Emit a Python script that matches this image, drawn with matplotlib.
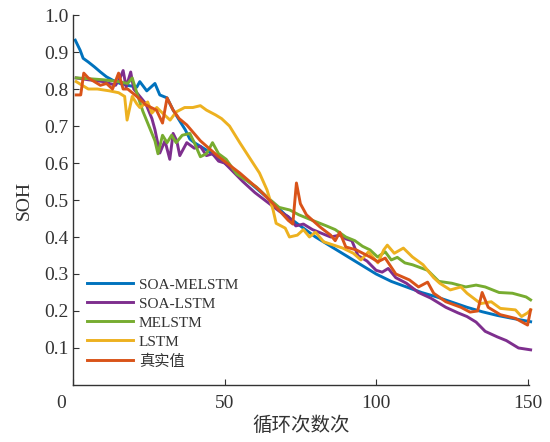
import matplotlib
matplotlib.use('Agg')
import matplotlib.pyplot as plt
from matplotlib.transforms import ScaledTranslation

plt.rcParams['font.family'] = ['Liberation Serif', 'Noto Sans CJK SC']
plt.rcParams['font.size'] = 13

# SOA-MELSTM
blue_x = [0.7, 2.3, 3.3, 5, 7, 9, 11, 13, 15.5, 18, 21, 22, 24.3, 27, 28.6, 31, 33, 35, 37, 38.5,
          40, 45, 50, 55, 60, 65, 70, 75, 80, 85, 90, 95, 100, 105, 110, 115, 120, 125, 130, 135,
          140, 145, 151]
blue_y = [0.932, 0.905, 0.883, 0.873, 0.86, 0.846, 0.833, 0.824, 0.815, 0.81, 0.805, 0.82, 0.795,
          0.815, 0.784, 0.776, 0.743, 0.716, 0.69, 0.665, 0.655, 0.63, 0.60, 0.57, 0.535, 0.50,
          0.46, 0.43, 0.40, 0.375, 0.35, 0.325, 0.30, 0.28, 0.265, 0.25, 0.238, 0.224, 0.21,
          0.198, 0.188, 0.18, 0.171]

# SOA-LSTM
purple_x = [1, 5, 10, 14, 15.5, 16.5, 17.5, 19, 20, 22, 24, 26, 27, 28.6, 30.3, 31.9, 33, 34.2,
            35.2, 37.5, 40, 42, 44, 46, 48, 50, 53, 56, 60, 64, 68, 71, 73.5, 76, 79, 82, 85, 88,
            90, 92, 94, 97, 100, 102, 104, 106.5, 110, 114, 118, 123, 127, 130, 133, 136, 140,
            143, 147, 151]
purple_y = [0.83, 0.825, 0.82, 0.81, 0.83, 0.85, 0.805, 0.846, 0.80, 0.78, 0.76, 0.72, 0.69,
            0.627, 0.66, 0.61, 0.68, 0.66, 0.62, 0.655, 0.64, 0.645, 0.62, 0.625, 0.605, 0.60,
            0.575, 0.55, 0.52, 0.495, 0.47, 0.455, 0.43, 0.435, 0.42, 0.41, 0.40, 0.405, 0.395,
            0.39, 0.35, 0.335, 0.31, 0.305, 0.315, 0.29, 0.275, 0.25, 0.235, 0.21, 0.195, 0.185,
            0.17, 0.145, 0.13, 0.12, 0.10, 0.095]

# MELSTM
green_x = [1, 5, 10, 15, 18, 19.5, 21, 23, 25, 27, 28, 29.5, 31, 32.5, 34, 36, 38.5, 40, 42, 44,
           46, 48, 50.5, 54, 57, 60.5, 64, 68, 71.5, 74.5, 79, 83.6, 86.5, 90, 93, 95.5, 98,
           100.5, 103, 105, 107, 109.5, 112, 117, 120.7, 125, 129.6, 133, 136, 140.6, 145,
           149.5, 151]
green_y = [0.83, 0.828, 0.825, 0.82, 0.815, 0.83, 0.79, 0.74, 0.70, 0.66, 0.625, 0.675, 0.655,
           0.675, 0.655, 0.675, 0.68, 0.655, 0.617, 0.625, 0.655, 0.625, 0.61, 0.57, 0.554,
           0.535, 0.508, 0.48, 0.473, 0.46, 0.445, 0.43, 0.42, 0.40, 0.39, 0.375, 0.365, 0.346,
           0.36, 0.338, 0.345, 0.33, 0.325, 0.31, 0.28, 0.275, 0.265, 0.27, 0.265, 0.25, 0.248,
           0.238, 0.23]

# LSTM
orange_x = [1, 3, 5, 8, 12, 15, 17, 17.8, 19.5, 21, 22, 24.6, 26, 27.6, 29.5, 32, 34, 36.8, 39.5,
            42, 44, 47, 49, 51.6, 55, 58, 61.5, 64, 66, 67, 70, 71.4, 74, 76, 78, 80, 82.7, 86,
            89, 92.5, 95, 97.5, 100.6, 102.5, 103.7, 106, 109, 112, 115.5, 119, 121, 124.5, 128,
            130, 134.5, 138, 141, 146, 148, 150, 151]
orange_y = [0.82, 0.81, 0.80, 0.80, 0.795, 0.79, 0.78, 0.716, 0.78, 0.76, 0.75, 0.765, 0.735,
            0.75, 0.735, 0.716, 0.738, 0.75, 0.75, 0.755, 0.743, 0.73, 0.72, 0.70, 0.655, 0.617,
            0.573, 0.527, 0.473, 0.437, 0.424, 0.40, 0.405, 0.42, 0.40, 0.413, 0.387, 0.378,
            0.37, 0.356, 0.338, 0.36, 0.33, 0.365, 0.378, 0.356, 0.37, 0.346, 0.325, 0.29, 0.275,
            0.257, 0.265, 0.248, 0.22, 0.225, 0.207, 0.203, 0.185, 0.195, 0.203]

# 真实值
red_x = [1, 2.5, 3.5, 5, 7, 9, 11, 13, 15, 16.5, 18, 21, 24, 27.5, 29.5, 31, 33, 35, 37.5, 42,
         48, 55, 61.5, 66, 71, 72.5, 73.7, 75, 77, 81.5, 85, 86.5, 88, 90, 93.5, 98, 100.6, 103,
         106.5, 111, 114, 117, 119, 123, 128, 131, 133.5, 135, 137, 141, 146, 150, 151]
red_y = [0.784, 0.784, 0.843, 0.83, 0.82, 0.81, 0.815, 0.80, 0.843, 0.80, 0.80, 0.78, 0.757,
         0.743, 0.708, 0.776, 0.743, 0.72, 0.703, 0.66, 0.617, 0.573, 0.527, 0.49, 0.445, 0.435,
         0.546, 0.49, 0.46, 0.427, 0.405, 0.39, 0.413, 0.373, 0.365, 0.346, 0.333, 0.343, 0.30,
         0.284, 0.265, 0.278, 0.248, 0.225, 0.21, 0.197, 0.20, 0.25, 0.21, 0.19, 0.18, 0.162,
         0.203]

labels = ['SOA-MELSTM', 'SOA-LSTM', 'MELSTM', 'LSTM', '真实值']
colors = ['#0072BD', '#7E2F8E', '#77AC30', '#EDB120', '#D95319']
series = [(blue_x, blue_y), (purple_x, purple_y), (green_x, green_y),
          (orange_x, orange_y), (red_x, red_y)]

fig = plt.figure(figsize=(5.5, 4.42), dpi=100)
ax = fig.add_axes([0.133, 0.129, 0.829, 0.837])

for (xs, ys), lab, col in zip(series, labels, colors):
    ax.plot(xs, ys, color=col, lw=2.1, label=lab, clip_on=False)

ax.set_xlim(0, 150.5)
ax.set_ylim(0, 1.0)
ax.set_xticks([0, 50, 100, 150])
ax.set_yticks([0.1, 0.2, 0.3, 0.4, 0.5, 0.6, 0.7, 0.8, 0.9, 1.0])
ax.set_yticklabels(['0.1', '0.2', '0.3', '0.4', '0.5', '0.6', '0.7', '0.8', '0.9', '1.0'])
ax.tick_params(direction='in', length=4, width=0.8, labelsize=14, colors='#333333')
ax.tick_params(axis='x', pad=7)
ax.spines['top'].set_visible(False)
ax.spines['right'].set_visible(False)
for s in ['left', 'bottom']:
    ax.spines[s].set_linewidth(1.0)
    ax.spines[s].set_color('#333333')

# the origin label sits a little left of the axis corner
zero_lab = ax.get_xticklabels()[0]
zero_lab.set_transform(zero_lab.get_transform() + ScaledTranslation(-0.12, 0, fig.dpi_scale_trans))

ax.set_xlabel('循环次数次', fontsize=14, color='#333333', labelpad=3)
ax.set_ylabel('SOH', fontsize=14, color='#333333', labelpad=8)

leg = ax.legend(loc='lower left', bbox_to_anchor=(0.01, 0.02), frameon=False, fontsize=11,
                handlelength=3.0, handletextpad=0.4, labelspacing=0.35, borderaxespad=0.2)
for t in leg.get_texts():
    t.set_color('#333333')

fig.savefig('out.png', dpi=100)
